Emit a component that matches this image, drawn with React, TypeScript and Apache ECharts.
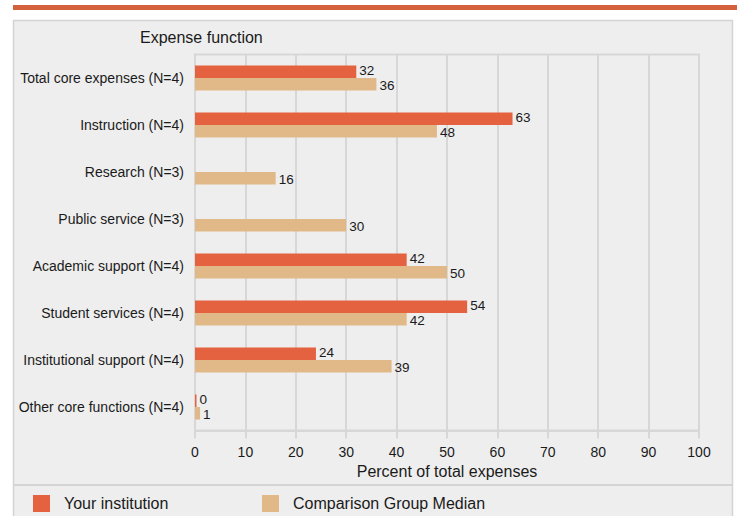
import React, { useEffect, useRef } from "react";
import * as echarts from "echarts";

const categories = [
  "Total core expenses (N=4)",
  "Instruction (N=4)",
  "Research (N=3)",
  "Public service (N=3)",
  "Academic support (N=4)",
  "Student services (N=4)",
  "Institutional support (N=4)",
  "Other core functions (N=4)",
];
const yourInstitution = [32, 63, null, null, 42, 54, 24, 0];
const comparisonMedian = [36, 48, 16, 30, 50, 42, 39, 1];
const xTicks = { min: 0, max: 100, interval: 10 };

const FONT = "'Liberation Sans', Arial, sans-serif";
const ORANGE = "#e4623f";
const TAN = "#e1b887";
const GRID = "#d7d7d7";
const TEXT = "#1a1a1a";

export default function App() {
  const ref = useRef<HTMLDivElement>(null);
  useEffect(() => {
    if (!ref.current) return;
    const chart = echarts.init(ref.current, undefined, { renderer: "svg" });
    chart.setOption({
      animation: false,
      backgroundColor: "#ffffff",
      textStyle: { fontFamily: FONT },
      graphic: [
        { type: "rect", z: -100, shape: { x: 13, y: 5, width: 724, height: 5 }, style: { fill: "#d5603e" } },
        { type: "rect", z: -100, shape: { x: 13.5, y: 20.5, width: 719, height: 520 }, style: { fill: "#eeeeee", stroke: "#d4d4d4", lineWidth: 1.5 } },
        { type: "line", z: -99, shape: { x1: 14, y1: 485, x2: 733, y2: 485 }, style: { stroke: "#d4d4d4", lineWidth: 2 } },
        { type: "text", z: 10, x: 140, y: 29, style: { text: "Expense function", fontSize: 16, fill: TEXT, fontFamily: FONT } },
      ],
      legend: [
        {
          data: ["Your institution"], left: 33, top: 495, padding: 0, icon: "rect",
          itemWidth: 17, itemHeight: 17, selectedMode: false,
          textStyle: { fontSize: 16, color: TEXT, fontFamily: FONT, padding: [0, 0, 0, 9] },
        },
        {
          data: ["Comparison Group Median"], left: 262, top: 495, padding: 0, icon: "rect",
          itemWidth: 17, itemHeight: 17, selectedMode: false,
          textStyle: { fontSize: 16, color: TEXT, fontFamily: FONT, padding: [0, 0, 0, 9] },
        },
      ],
      grid: {
        left: 195, right: 38, top: 54.5, bottom: 85.5,
        show: true, borderColor: GRID, borderWidth: 2, backgroundColor: "transparent",
      },
      xAxis: {
        type: "value",
        min: xTicks.min, max: xTicks.max, interval: xTicks.interval,
        name: "Percent of total expenses",
        nameLocation: "middle", nameGap: 33,
        nameTextStyle: { fontSize: 16, color: TEXT, fontFamily: FONT },
        axisLine: { show: true, lineStyle: { color: GRID, width: 2 } },
        axisTick: { show: true, length: 8, lineStyle: { color: GRID, width: 2 } },
        axisLabel: { fontSize: 14, color: TEXT, margin: 14, fontFamily: FONT },
        splitLine: { show: true, lineStyle: { color: GRID, width: 2 } },
      },
      yAxis: {
        type: "category",
        data: categories,
        inverse: true,
        axisLine: { show: true, lineStyle: { color: GRID, width: 2 } },
        axisTick: { show: false },
        axisLabel: { fontSize: 14, color: TEXT, margin: 11, fontFamily: FONT },
        splitLine: { show: false },
      },
      series: [
        {
          name: "Your institution", type: "bar", data: yourInstitution,
          barWidth: 12.5, barGap: "0%", barMinHeight: 1.5,
          itemStyle: { color: ORANGE },
          label: { show: true, position: "right", distance: 3, offset: [0, -1], fontSize: 13.5, lineHeight: 12, color: TEXT, fontFamily: FONT },
        },
        {
          name: "Comparison Group Median", type: "bar", data: comparisonMedian,
          barWidth: 12.5, barGap: "0%",
          itemStyle: { color: TAN },
          label: { show: true, position: "right", distance: 3, offset: [0, 1], fontSize: 13.5, lineHeight: 12, color: TEXT, fontFamily: FONT },
        },
      ],
    });
    return () => chart.dispose();
  }, []);
  return <div ref={ref} style={{ position: "absolute", left: 0, top: 0, width: 737, height: 516 }} />;
}
